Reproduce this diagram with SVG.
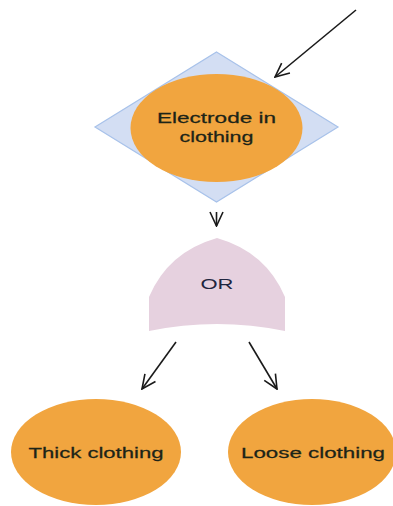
<svg xmlns="http://www.w3.org/2000/svg" width="393" height="506" viewBox="0 0 393 506">
<style>
.node-e{fill:#f1a53f;stroke:none}
.lbl{font-family:"Liberation Sans",Arial,sans-serif;font-size:15.5px;fill:#1c2418;stroke:#1c2418;stroke-width:0.25;text-anchor:middle}
.conn{stroke:#1a1a1a;stroke-width:1.6;fill:none}
</style>
<defs>
<marker id="ah" viewBox="0 0 16 16" refX="15" refY="8" markerWidth="16" markerHeight="16" markerUnits="userSpaceOnUse" orient="auto">
<path d="M1,1.5 L15,8 L1,14.5" fill="none" stroke="#1a1a1a" stroke-width="1.6"/>
</marker>
</defs>
<rect width="393" height="506" fill="#ffffff"/>
<g id="electrode">
<polygon points="216.5,52 338,127 216.5,202 95,127" fill="#d3def3" stroke="#a8c2ea" stroke-width="1.2"/>
<ellipse class="node-e" cx="216.5" cy="128" rx="86" ry="54"/>
<text class="lbl" transform="translate(216.5,123) scale(1.42,1)" textLength="83.8" lengthAdjust="spacingAndGlyphs">Electrode in</text>
<text class="lbl" transform="translate(216.5,142) scale(1.42,1)" textLength="52.1" lengthAdjust="spacingAndGlyphs">clothing</text>
</g>
<g id="or">
<path d="M149,331 L149,297 Q168,252 217,238 Q266,252 285,297 L285,331 Q217,317 149,331 Z" fill="#e6d1df"/>
<text transform="translate(217,289) scale(1.42,1)" font-family="'Liberation Sans',Arial,sans-serif" font-size="15px" fill="#1f2640" text-anchor="middle" textLength="23.2" lengthAdjust="spacingAndGlyphs">OR</text>
</g>
<g id="thick">
<ellipse class="node-e" cx="96" cy="452" rx="85" ry="53"/>
<text class="lbl" transform="translate(96,458) scale(1.42,1)" textLength="95.1" lengthAdjust="spacingAndGlyphs">Thick clothing</text>
</g>
<g id="loose">
<ellipse class="node-e" cx="312" cy="452" rx="84" ry="53"/>
<text class="lbl" transform="translate(313,458) scale(1.42,1)" textLength="101.4" lengthAdjust="spacingAndGlyphs">Loose clothing</text>
</g>
<g id="connectors">
<line class="conn" x1="356" y1="10" x2="275" y2="77" marker-end="url(#ah)"/>
<line class="conn" x1="216.5" y1="212" x2="216.5" y2="226" marker-end="url(#ah)"/>
<line class="conn" x1="176" y1="342" x2="142" y2="389" marker-end="url(#ah)"/>
<line class="conn" x1="249" y1="342" x2="277" y2="389" marker-end="url(#ah)"/>
</g>
</svg>
